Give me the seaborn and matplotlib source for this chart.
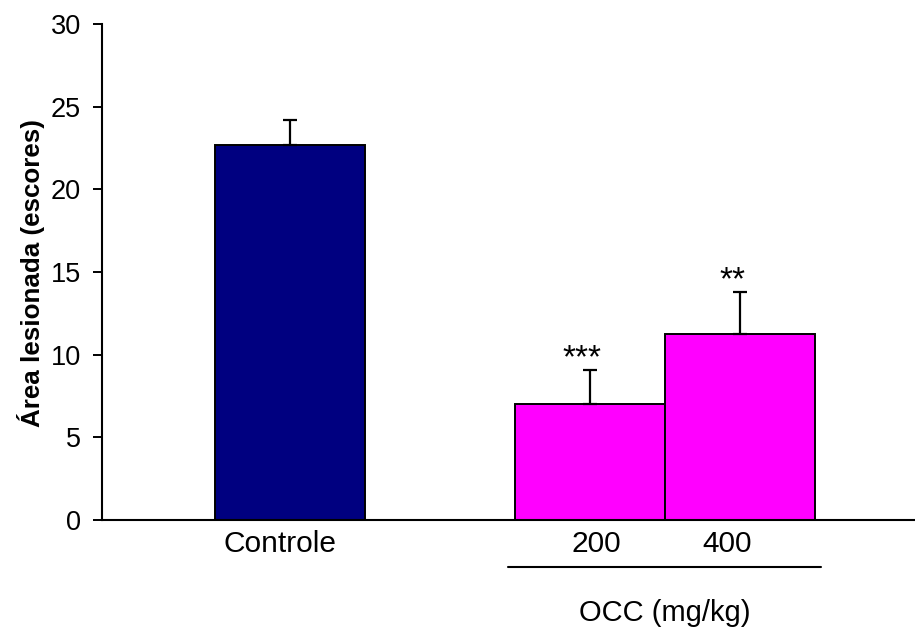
import matplotlib
matplotlib.use("Agg")
import matplotlib.pyplot as plt
import matplotlib.transforms as mtransforms
import seaborn as sns

# Data
groups = ["Controle", "200", "400"]
positions = [0, 2, 3]
means = [22.7, 7.0, 11.25]
sem = [1.5, 2.1, 2.55]
stars = ["", "***", "**"]
bar_colors = ["#000080", "#FF00FF", "#FF00FF"]

# Small horizontal nudges for the text under and above the bars
label_nudge = [-0.067, 0.04, -0.087]
star_nudge = -0.053

sns.set_theme(style="white")
plt.rcParams["font.family"] = ["Liberation Sans", "DejaVu Sans"]
plt.rcParams["text.color"] = "black"
plt.rcParams["axes.labelcolor"] = "black"
plt.rcParams["xtick.color"] = "black"
plt.rcParams["ytick.color"] = "black"

fig = plt.figure(figsize=(9.15, 6.28), dpi=100)
ax = fig.add_axes([102 / 915, 108 / 628, 813 / 915, 496 / 628])

sns.barplot(x=positions, y=means, hue=groups, palette=bar_colors,
            saturation=1, native_scale=True, width=1.0, dodge=False,
            legend=False, edgecolor="black", linewidth=1.4, ax=ax)

# Upper-only error bars
ax.errorbar(positions, means, yerr=[[0] * len(sem), sem], fmt="none",
            ecolor="black", elinewidth=1.6, capsize=5, capthick=1.6, zorder=1)

for x, m, s, t in zip(positions, means, sem, stars):
    if t:
        ax.text(x + star_nudge, m + s + 0.15, t, ha="center", va="baseline",
                fontsize=24)

ax.set_xlim(-1.253, 4.167)
ax.set_ylim(0, 30)
ax.set_yticks(range(0, 31, 5))
ax.set_xticks([p + d for p, d in zip(positions, label_nudge)], groups)
ax.tick_params(axis="x", length=0, pad=7.5, labelsize=21.5)
ax.tick_params(axis="y", length=6.5, width=1.4, direction="out", left=True,
               pad=8.5, labelsize=19.5)
for side in ["top", "right"]:
    ax.spines[side].set_visible(False)
for side in ["left", "bottom"]:
    ax.spines[side].set_color("black")
    ax.spines[side].set_linewidth(1.5)

ax.set_ylabel("Área lesionada (escores)", fontsize=18.7, fontweight="bold")
ax.yaxis.set_label_coords(-0.070, 0.497)
ax.set_xlabel("")

# Dose group bracket and label
trans = mtransforms.blended_transform_factory(ax.transData, ax.transAxes)
ax.plot([1.453, 3.54], [-0.095, -0.095], color="black", lw=1.5,
        transform=trans, clip_on=False)
ax.text(2.5, -0.204, "OCC (mg/kg)", transform=trans, ha="center",
        va="baseline", fontsize=21)

fig.savefig("out.png", dpi=100)
